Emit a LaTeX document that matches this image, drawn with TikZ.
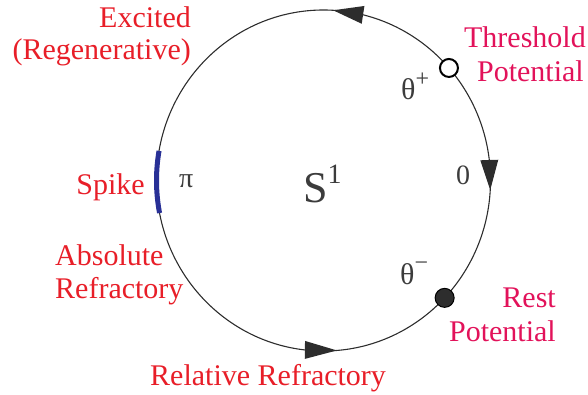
\documentclass[tikz,border=0pt]{standalone}
\usepackage{fontspec}
\setmainfont{Liberation Serif}
\usetikzlibrary{calc}
\definecolor{lblred}{RGB}{232,30,40}
\definecolor{lblpink}{RGB}{226,18,90}
\definecolor{spikeblue}{RGB}{40,48,150}
\definecolor{ink}{RGB}{45,45,45}
\definecolor{mathgrey}{RGB}{60,60,60}
\begin{document}
\begin{tikzpicture}[x=1pt,y=-1pt,
  lbl/.style={inner sep=0pt, font=\fontsize{30}{34}\selectfont},
  redlbl/.style={lbl, text=lblred},
  pinklbl/.style={lbl, text=lblpink},
  mathlbl/.style={inner sep=0pt, text=mathgrey, font=\fontsize{28}{32}\selectfont},
  orbit/.style={draw=ink, line width=1.1pt},
  tri/.style={fill=ink},
]
\def\Cx{323.5}\def\Cy{180.5}\def\Rx{167}\def\Ry{170.5}
\useasboundingbox (0,0) rectangle (588,395);
\draw[orbit] (\Cx,\Cy) ellipse [x radius=\Rx, y radius=\Ry];
\foreach \n/\a in {T1/86.7, B1/76.3, T2/-3.2, B2/6.9, T3/-85.4, B3/-96.4, thr/41.3, rst/-43.5}
  \coordinate (\n) at ({\Cx+\Rx*cos(\a)}, {\Cy-\Ry*sin(\a)});
% arrowheads
\foreach \i in {1,2,3}
  \fill[tri] (T\i) -- ($(B\i)!9pt!90:(T\i)$) -- ($(B\i)!9pt!-90:(T\i)$) -- cycle;
% spike
\draw[spikeblue, line width=5pt] plot[domain=170:191, samples=30] ({\Cx+\Rx*cos(\x)}, {\Cy-\Ry*sin(\x)});
% markers
\node[circle, draw=black, line width=2pt, fill=white, minimum size=18pt, inner sep=0pt] (thrdot) at (thr) {};
\node[circle, draw=black, line width=1pt, fill=ink, minimum size=19pt, inner sep=0pt] (rstdot) at (rst) {};
% labels
\node[redlbl, anchor=base east] (exc1) at (191,28) {Excited};
\node[redlbl, anchor=base east] (exc2) at (191,60) {(Regenerative)};
\node[pinklbl, anchor=base east] (thr1) at (586,48) {Threshold};
\node[pinklbl, anchor=base east] (thr2) at (584,82) {Potential};
\node[pinklbl, anchor=base east] (rst1) at (556,307) {Rest};
\node[pinklbl, anchor=base east] (rst2) at (556,341) {Potential};
\node[redlbl, anchor=base east] (spk) at (145,195) {Spike};
\node[redlbl, anchor=base west] (abs1) at (55,265) {Absolute};
\node[redlbl, anchor=base west] (abs2) at (55,298) {Refractory};
\node[redlbl, anchor=base west] (rel) at (150,385) {Relative Refractory};
\node[mathlbl, anchor=base west, font=\fontsize{30}{32}\selectfont] (thp) at (401,100) {θ\raisebox{13pt}{\fontsize{24}{24}\selectfont +}};
\node[mathlbl, anchor=base west, font=\fontsize{30}{32}\selectfont] (thm) at (400,284) {θ\raisebox{14pt}{\fontsize{24}{24}\selectfont −}};
\node[mathlbl, anchor=base west] (zero) at (456,185) {0};
\node[mathlbl, anchor=base west] (pi) at (179,188) {π};
\node[mathlbl, anchor=base west, font=\fontsize{44}{48}\selectfont] (s1) at (303,203) {S\raisebox{19pt}{\fontsize{28}{28}\selectfont 1}};
\end{tikzpicture}
\end{document}
